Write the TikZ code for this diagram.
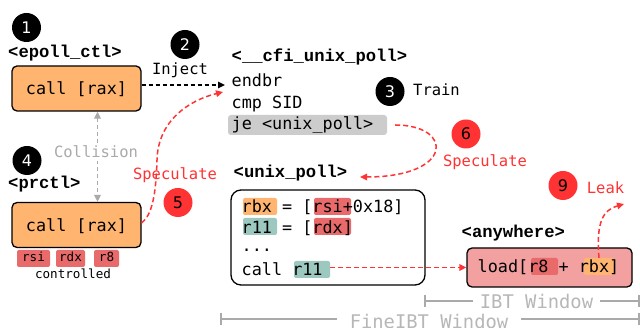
\documentclass[tikz,border=0pt]{standalone}
\usepackage{fontspec}
\setmonofont{DejaVu Sans Mono}
\newfontfamily\labelfont{Liberation Mono}
\newfontfamily\digitfont{DejaVu Sans}
\usetikzlibrary{arrows.meta}

\definecolor{boxorange}{HTML}{FFB570}
\definecolor{hlred}{HTML}{E86A6A}
\definecolor{hlteal}{HTML}{9CC8BF}
\definecolor{loadpink}{HTML}{F2A0A0}
\definecolor{specred}{HTML}{FF3333}
\definecolor{jegray}{HTML}{CCCCCC}
\definecolor{wingray}{HTML}{AAAAAA}

\tikzset{
  code/.style={font=\fontsize{16.8}{20}\selectfont\ttfamily, inner sep=0pt, anchor=base west},
  fnlabel/.style={font=\fontsize{17.2}{20}\selectfont\labelfont\bfseries, inner sep=0pt, anchor=base west},
  note/.style={font=\fontsize{15.5}{18}\selectfont\ttfamily, inner sep=0pt, anchor=base},
  small/.style={font=\fontsize{12.6}{14}\selectfont\ttfamily, inner sep=0pt},
  badge/.style={circle, fill=black, text=white, minimum size=29pt, inner sep=0pt,
    font=\fontsize{16}{18}\selectfont\digitfont},
  redbadge/.style={badge, fill=specred, text=black},
  orangebox/.style={draw, line width=1.3pt, rounded corners=5pt, fill=boxorange,
    inner sep=0pt, minimum width=129pt, minimum height=45pt,
    font=\fontsize{16.8}{20}\selectfont\ttfamily, text height=13pt, text depth=0pt},
  hl/.style={fill=#1, rounded corners=2pt, inner sep=0pt, minimum height=17pt},
  tag/.style={fill=hlred, rounded corners=2pt, inner sep=0pt, minimum height=17pt,
    small, text height=8pt, text depth=2pt},
  tip/.style={-{Triangle[length=7pt,width=6.5pt]}},
  blackdash/.style={tip, line width=1.5pt, dash pattern=on 4pt off 3pt},
  reddash/.style={tip, draw=specred, line width=1.5pt, dash pattern=on 5pt off 3pt},
  graydash/.style={{Triangle[length=7pt,width=6.5pt]}-{Triangle[length=7pt,width=6.5pt]},
    draw=wingray, line width=1.5pt, dash pattern=on 4pt off 3pt},
  winline/.style={draw=wingray, line width=1.5pt},
  wintext/.style={font=\fontsize{18.8}{22}\selectfont\ttfamily, text=wingray!85,
    anchor=base, fill=white},
}

\begin{document}
\begin{tikzpicture}[x=1pt, y=-1pt]
\fill[white] (0,0) rectangle (640,328);
\useasboundingbox (0,0) rectangle (640,328);

% ---- step badges
\node[badge]    (b1) at (26.5,27.5) {1};
\node[badge]    (b2) at (185,44.5) {2};
\node[badge]    (b3) at (390,91.5) {3};
\node[badge]    (b4) at (27,160.5) {4};
\node[redbadge] (b5) at (178,202.5) {5};
\node[redbadge] (b6) at (466,134) {6};
\node[redbadge] (b7) at (387,250) {7};
\node[redbadge] (b9) at (563,185.5) {9};

% ---- callers
\node[fnlabel] (lepoll) at (8,58) {<epoll\_ctl>};
\node[orangebox] (epoll) at (76.5,88.5) {call [rax]};

\node[fnlabel] (lprctl) at (8,189) {<prctl>};
\node[orangebox] (prctl) at (76.5,225) {call [rax]};

\node[tag, minimum width=33pt] (trsi) at (33.5,258.5) {rsi};
\node[tag, minimum width=29pt] (trdx) at (70.5,258.5) {rdx};
\node[tag, minimum width=25pt] (tr8)  at (106.5,258.5) {r8};
\node[small, anchor=base] (ctrl) at (73,279) {controlled};

% ---- FineIBT preamble
\node[fnlabel] (lcfi) at (231.5,62) {<\_\_cfi\_unix\_poll>};
\node[code] (endbr) at (231.5,87) {endbr};
\node[code] (cmp) at (231.5,109) {cmp SID};
\node[fill=jegray, rounded corners=3pt, inner sep=0pt,
      minimum width=159pt, minimum height=20pt] (je) at (307.5,125) {};
\node[code] (jetext) at (231.5,130) {je <unix\_poll>};

% ---- target function
\node[fnlabel] (lunix) at (233.5,178) {<unix\_poll>};
\node[draw, line width=1.3pt, rounded corners=10pt, fill=white, inner sep=0pt,
      minimum width=194pt, minimum height=95pt] (unix) at (328,237.5) {};
\node[hl=boxorange, minimum width=34pt] (hrbx) at (260,206.5) {};
\node[hl=hlred,     minimum width=37pt] (hrsi) at (332.5,206.5) {};
\node[hl=hlteal,    minimum width=34pt] (hr11) at (260,226.5) {};
\node[hl=hlred,     minimum width=37pt] (hrdx) at (332.5,226.5) {};
\node[hl=hlteal,    minimum width=36pt] (callhl) at (312,269.5) {};
\node[code] (l1) at (241.5,213) {rbx = [rsi+0x18]};
\node[code] (l2) at (241.5,233.5) {r11 = [rdx]};
\node[code] (l3) at (241.5,252) {...};
\node[code] (l4) at (241.5,276) {call r11};

% ---- gadget
\node[fnlabel] (lany) at (461.5,238) {<anywhere>};
\node[draw, line width=1.3pt, rounded corners=5pt, fill=loadpink, inner sep=0pt,
      minimum width=165pt, minimum height=39pt] (anywhere) at (549.5,267.5) {};
\node[hl=hlred,     minimum width=27pt] (hr8)   at (544.5,266.5) {};
\node[hl=boxorange, minimum width=30pt] (hlrbx) at (599,266.5) {};
\node[code] (load) at (477.5,273) {load[r8 + rbx]};

% ---- labels
\node[note] (tinject) at (180,75) {Inject};
\node[note] (ttrain) at (436.5,96) {Train};
\node[note, text=specred] (tspec5) at (175,180) {Speculate};
\node[note, text=specred] (tspec6) at (485,167) {Speculate};
\node[note, text=specred] (tleak) at (605.5,194) {Leak};

% ---- connectors
\coordinate (injEnd) at (225,85);
\draw[blackdash] ([yshift=3.5pt]epoll.east) -- (injEnd);

\draw[graydash] ([xshift=21pt]epoll.south) -- ([xshift=21pt]prctl.north);
\node[note, text=wingray, fill=white, inner sep=3pt] (tcoll) at (96,158) {Collision};

\coordinate (spec5Mid) at (157,160);
\coordinate (spec5End) at (223,92);
\draw[reddash] ([yshift=2pt]prctl.east) .. controls (152,215) and (156,195) .. (spec5Mid)
  .. controls (158,120) and (190,100) .. (spec5End);

\coordinate (spec6End) at (360,177);
\draw[reddash] ([xshift=8pt]je.east) .. controls (454,125) and (454,177) .. (spec6End);

\draw[reddash] (anywhere.west -| callhl.east) -- (anywhere.west);

\coordinate (leakEnd) at (624,204);
\draw[reddash] (hlrbx.north) .. controls (596,222) and (603,210) .. (leakEnd);

% ---- speculation windows
\coordinate (ibtL) at (425,301);
\coordinate (ibtR) at (639,301);
\draw[winline] (ibtL) -- (ibtR);
\draw[winline] ([yshift=6pt]ibtL) -- ([yshift=-6pt]ibtL);
\draw[winline] ([yshift=6pt]ibtR) -- ([yshift=-6pt]ibtR);
\node[wintext, inner xsep=6.5pt, inner ysep=1pt] (ibt) at (536.5,309) {IBT Window};

\coordinate (fineL) at (221,319);
\coordinate (fineR) at (639,319);
\draw[winline] (fineL) -- (fineR);
\draw[winline] ([yshift=6pt]fineL) -- ([yshift=-6pt]fineL);
\draw[winline] ([yshift=6pt]fineR) -- ([yshift=-6pt]fineR);
\node[wintext, inner xsep=12.5pt, inner ysep=1pt] (fine) at (429,328.5) {FineIBT Window};
\end{tikzpicture}
\end{document}
